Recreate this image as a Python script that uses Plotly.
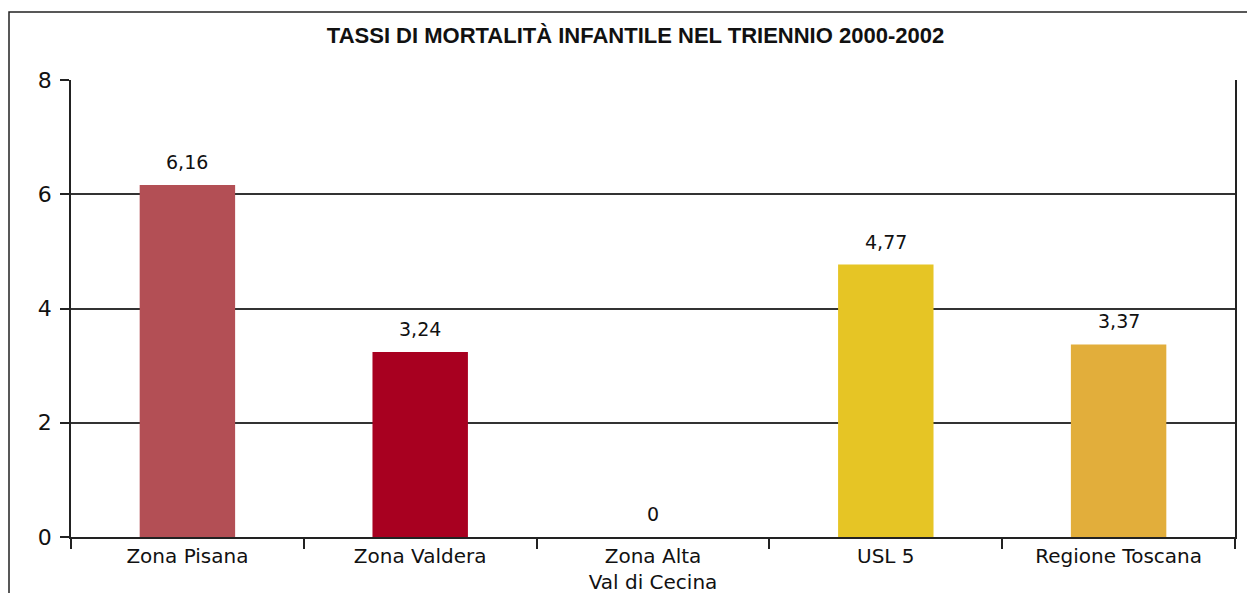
import plotly.graph_objects as go

categories = ["Zona Pisana", "Zona Valdera", "Zona Alta<br>Val di Cecina", "USL 5", "Regione Toscana"]
values = [6.16, 3.24, 0, 4.77, 3.37]
colors = ["#B34F55", "#A80020", "#B34F55", "#E6C525", "#E2AE3B"]
title = "TASSI DI MORTALITÀ INFANTILE NEL TRIENNIO 2000-2002"
y_ticks = [0, 2, 4, 6, 8]

labels = ["0" if v == 0 else f"{v:.2f}".replace(".", ",") for v in values]

# page has an 8px body margin; work in figure coordinates
OFF = 8
W, H = 1255 - OFF, 593 - OFF
L, R, T, B = 71 - OFF, 20, 80 - OFF, 56
pw, ph = W - L - R, H - T - B

fig = go.Figure(go.Bar(
    x=categories, y=values, marker=dict(color=colors, line=dict(width=0)),
    hoverinfo="x+y",
))

for c, v, t in zip(categories, values, labels):
    fig.add_annotation(x=c, y=v, text=t, showarrow=False, yanchor="bottom", yshift=10,
                       font=dict(family="DejaVu Sans", size=19, color="#111"))

fig.update_layout(
    width=W, height=H, margin=dict(l=L, r=R, t=T, b=B),
    paper_bgcolor="white", plot_bgcolor="white",
    bargap=0.59, showlegend=False,
    title=dict(text="<b>" + title + "</b>", x=(635.5 - OFF) / W, xanchor="center",
               y=1 - (35 - OFF) / H, yanchor="middle",
               font=dict(family="Liberation Sans", size=22, color="#111")),
    font=dict(family="DejaVu Sans", color="#111"),
)
fig.update_xaxes(
    automargin=False,
    showline=True, linecolor="#222", linewidth=1.5,
    ticks="outside", tickson="boundaries", ticklen=10, tickcolor="#222", tickwidth=1.5,
    tickfont=dict(family="DejaVu Sans", size=20, color="#111"), showgrid=False,
)
fig.update_yaxes(
    automargin=False,
    range=[0, 8], tickvals=y_ticks, showline=True, mirror=True, linecolor="#222", linewidth=1.5,
    ticks="outside", ticklen=9, tickcolor="#222", tickwidth=1.5, ticklabelstandoff=4,
    showgrid=True, gridcolor="#333", gridwidth=1.5, zeroline=False,
    tickfont=dict(family="DejaVu Sans", size=22, color="#111"),
)
# outer frame
fig.add_shape(type="rect", xref="paper", yref="paper",
              x0=(1 - L) / pw, x1=(W + 5 - L) / pw,
              y0=-(B + 10) / ph, y1=(T - (12 - OFF)) / ph + 1,
              line=dict(color="#222", width=1.5), fillcolor="rgba(0,0,0,0)", layer="below")

fig.write_html("out.html")
